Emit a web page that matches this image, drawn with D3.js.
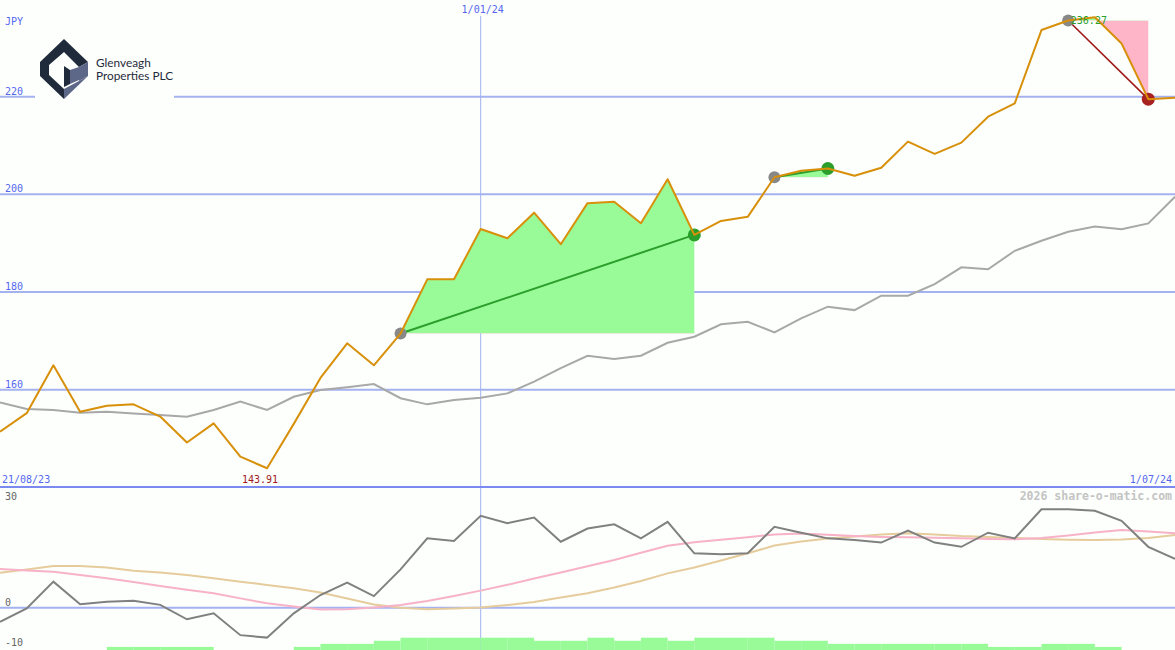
<!DOCTYPE html>
<html><head><meta charset="utf-8">
<script src="https://cdn.jsdelivr.net/npm/d3@7"></script>
<style>html,body{margin:0;padding:0;background:#fcfffc;overflow:hidden}svg{display:block}</style>
</head><body><svg id="c" width="1175" height="650"></svg>
<script>
// ---------- data ----------
const dates = ["2023-08-28","2023-09-04","2023-09-11","2023-09-18","2023-09-25","2023-10-02","2023-10-09","2023-10-16","2023-10-23","2023-10-30","2023-11-06","2023-11-13","2023-11-20","2023-11-27","2023-12-04","2023-12-11","2023-12-18","2023-12-25","2024-01-01","2024-01-08","2024-01-15","2024-01-22","2024-01-29","2024-02-05","2024-02-12","2024-02-19","2024-02-26","2024-03-04","2024-03-11","2024-03-18","2024-03-25","2024-04-01","2024-04-08","2024-04-15","2024-04-22","2024-04-29","2024-05-06","2024-05-13","2024-05-20","2024-05-27","2024-06-03","2024-06-10","2024-06-17","2024-06-24","2024-07-01"];
const price = [151.4,155.2,165.0,155.5,156.7,157.0,154.5,149.2,153.1,146.3,143.91,153.0,162.4,169.5,165.0,171.5,182.6,182.6,192.9,191.0,196.25,189.8,198.2,198.5,194.1,203.1,191.7,194.55,195.4,203.5,204.85,205.3,203.8,205.45,210.8,208.3,210.6,215.9,218.65,233.65,235.6,236.27,230.9,219.5,219.8];
const movingAvg = [157.4,156.05,155.85,155.3,155.5,155.15,154.8,154.45,155.85,157.55,155.85,158.55,159.95,160.5,161.15,158.25,157.0,157.9,158.35,159.25,161.65,164.4,166.95,166.3,166.95,169.6,170.85,173.4,173.9,171.75,174.6,177.0,176.3,179.25,179.25,181.6,185.05,184.65,188.45,190.5,192.35,193.4,192.85,194.05,199.5];
const momentum = [-4.0,-0.2,7.4,1.0,1.7,2.0,0.8,-3.3,-1.6,-7.8,-8.5,-1.6,3.6,7.1,3.3,10.9,19.7,18.95,26.1,24.0,25.6,18.75,22.5,23.7,19.7,24.4,15.45,15.2,15.45,23.0,21.3,19.7,19.2,18.5,21.9,18.5,17.3,21.3,19.7,27.95,27.95,27.55,24.7,17.3,13.85];
const pinkLine = [11.0,10.6,10.2,9.3,8.35,7.3,6.15,5.1,4.1,2.65,1.25,0.35,-0.5,-0.45,0.05,0.75,1.9,3.3,4.85,6.5,8.3,10.0,11.75,13.55,15.6,17.6,18.6,19.3,20.0,20.8,21.1,20.7,20.35,20.1,20.0,19.9,19.7,19.5,19.45,19.8,20.5,21.35,22.05,21.65,21.15];
const tanLine = [9.95,10.85,11.85,11.85,11.4,10.5,10.0,9.3,8.35,7.4,6.45,5.5,4.3,2.6,0.9,0.0,-0.45,-0.25,0.05,0.75,1.6,2.9,4.1,5.75,7.6,9.75,11.4,13.4,15.45,17.65,18.8,19.65,20.25,20.8,21.15,20.8,20.35,20.1,19.8,19.5,19.3,19.25,19.4,19.8,20.65];
const signalBars = [0,0,0,0,1,1,1,1,0,0,0,1,2,2,3,4,4,4,4,4,3,3,4,3,4,3,4,4,4,3,3,2,2,2,2,2,2,1,1,2,2,1,0,0];
const trends = [{start:15,end:26},{start:29,end:31},{start:40,end:43}];
const mainTicks = [160,180,200,220];
const lowTicks = [30,0,-10];
const lowGrid = [0];
const currency = "JPY";
const dateStartLabel = "21/08/23";
const dateMidLabel = "1/01/24", dateMid = "2024-01-01";
const dateEndLabel = "1/07/24";
const watermark = "2026 share-o-matic.com";
const companyLines = ["Glenveagh","Properties PLC"];

// ---------- setup ----------
const W = 1175, H = 650, MAIN_BOTTOM = 487;
const svg = d3.select('#c');
const parse = d3.timeParse('%Y-%m-%d');
const dts = dates.map(parse);
const x = d3.scaleTime().domain(d3.extent(dts)).range([0, W]);
const y = d3.scaleLinear().domain([160, 220]).range([389.7, 96.7]);
const yl = d3.scaleLinear().domain([-10, 30]).range([642.9, 502.1]);
const yb = d3.scaleLinear().domain([0, 4]).range([H, 637.7]);
const mono = "'DejaVu Sans Mono', monospace";
const gridCol = '#a4b2f2', labCol = '#5567f0';

svg.append('rect').attr('width', W).attr('height', H).attr('fill', '#fcfffc');

// main grid
svg.selectAll('.g').data(mainTicks).enter().append('line')
  .attr('x1', 0).attr('x2', W).attr('y1', d => y(d)).attr('y2', d => y(d))
  .attr('stroke', gridCol).attr('stroke-width', 2);

// logo box
const logo = svg.append('g');
logo.append('rect').attr('x', 35).attr('y', 30).attr('width', 139).attr('height', 76).attr('fill', '#fdfffd');
const navy = '#1f2a3a', slate = '#5d6788';
logo.append('path').attr('fill', navy).attr('d', 'M64,39 L88,62 L79,67 L64,52 L49,65 L49,75 L64,89 L64,99 L40,76 L40,62 Z');
logo.append('path').attr('fill', slate).attr('d', 'M88,62 L88,76 L79,81 L79,67 Z');
logo.append('path').attr('fill', slate).attr('d', 'M64,99 L64,89 L79,81 L88,76 Z');
logo.append('path').attr('fill', navy).attr('d', 'M64,66 L70,70 L70,84 L64,87 Z');
logo.append('path').attr('fill', slate).attr('d', 'M70,70 L79,67 L79,80 L70,84 Z');
logo.selectAll('text').data(companyLines).enter().append('text')
  .attr('x', 96).attr('y', (d, i) => 67 + i * 13).text(d => d)
  .attr('font-family', 'Lato, sans-serif').attr('font-size', 11.8).attr('fill', navy);

// vertical date line
svg.append('line').attr('x1', x(parse(dateMid))).attr('x2', x(parse(dateMid)))
  .attr('y1', 16).attr('y2', H).attr('stroke', gridCol).attr('stroke-width', 1);

// trend fills
const defs = svg.append('defs');
trends.forEach((t, k) => {
  const base = y(price[t.start]);
  defs.append('clipPath').attr('id', 'up' + k).append('rect').attr('x', 0).attr('y', 0).attr('width', W).attr('height', base);
  defs.append('clipPath').attr('id', 'dn' + k).append('rect').attr('x', 0).attr('y', base).attr('width', W).attr('height', H - base);
  const idx = d3.range(t.start, t.end + 1);
  const area = d3.area().x(i => x(dts[i])).y0(base).y1(i => y(price[i]));
  svg.append('path').datum(idx).attr('d', area).attr('fill', '#98fb98').attr('clip-path', `url(#up${k})`);
  svg.append('path').datum(idx).attr('d', area).attr('fill', '#ffb5c8').attr('clip-path', `url(#dn${k})`);
});

// moving average
const lineMain = arr => d3.line().x((d, i) => x(dts[i])).y(d => y(d))(arr);
svg.append('path').attr('d', lineMain(movingAvg)).attr('fill', 'none').attr('stroke', '#a8a8a8').attr('stroke-width', 2);

// trend lines + markers
trends.forEach(t => {
  const up = price[t.end] >= price[t.start];
  svg.append('line').attr('x1', x(dts[t.start])).attr('y1', y(price[t.start]))
    .attr('x2', x(dts[t.end])).attr('y2', y(price[t.end]))
    .attr('stroke', up ? '#2b9e2b' : '#a01818').attr('stroke-width', up ? 2 : 1.6);
  svg.append('circle').attr('cx', x(dts[t.start])).attr('cy', y(price[t.start])).attr('r', 6).attr('fill', '#888888');
  svg.append('circle').attr('cx', x(dts[t.end])).attr('cy', y(price[t.end])).attr('r', 6.5).attr('fill', up ? '#2b9e2b' : '#a82222');
});

// price line
svg.append('path').attr('d', lineMain(price)).attr('fill', 'none').attr('stroke', '#d8900a').attr('stroke-width', 2).attr('stroke-linejoin', 'round');

// main labels
svg.selectAll('.ml').data(mainTicks).enter().append('text')
  .attr('x', 5).attr('y', d => y(d) - 2).text(d => d)
  .attr('font-family', mono).attr('font-size', 10).attr('fill', labCol);
svg.append('text').attr('x', 5).attr('y', 25).text(currency).attr('font-family', mono).attr('font-size', 10).attr('fill', labCol);

// high / low labels
const maxI = d3.maxIndex(price), minI = d3.minIndex(price);
svg.append('text').attr('x', x(dts[maxI]) - 6).attr('y', y(price[maxI]) + 7).attr('text-anchor', 'middle')
  .text(price[maxI].toFixed(2)).attr('font-family', mono).attr('font-size', 10).attr('fill', '#2b9e2b');
svg.append('text').attr('x', x(dts[minI]) - 7).attr('y', MAIN_BOTTOM - 4).attr('text-anchor', 'middle')
  .text(price[minI].toFixed(2)).attr('font-family', mono).attr('font-size', 10).attr('fill', '#a01c1c');

// date labels
svg.append('text').attr('x', 2).attr('y', MAIN_BOTTOM - 4).text(dateStartLabel).attr('font-family', mono).attr('font-size', 10).attr('fill', labCol);
svg.append('text').attr('x', W - 3).attr('y', MAIN_BOTTOM - 4).attr('text-anchor', 'end').text(dateEndLabel).attr('font-family', mono).attr('font-size', 10).attr('fill', labCol);
svg.append('text').attr('x', x(parse(dateMid)) + 2).attr('y', 12.5).attr('text-anchor', 'middle').text(dateMidLabel).attr('font-family', mono).attr('font-size', 10).attr('fill', labCol);

// separator axis
svg.append('line').attr('x1', 0).attr('x2', W).attr('y1', MAIN_BOTTOM).attr('y2', MAIN_BOTTOM).attr('stroke', '#7a8af0').attr('stroke-width', 2);

// lower panel
svg.selectAll('.lg').data(lowGrid).enter().append('line')
  .attr('x1', 0).attr('x2', W).attr('y1', d => yl(d)).attr('y2', d => yl(d))
  .attr('stroke', gridCol).attr('stroke-width', 2);
const lineLow = arr => d3.line().x((d, i) => x(dts[i])).y(d => yl(d))(arr);
svg.append('path').attr('d', lineLow(tanLine)).attr('fill', 'none').attr('stroke', '#e6cc9c').attr('stroke-width', 2);
svg.append('path').attr('d', lineLow(pinkLine)).attr('fill', 'none').attr('stroke', '#f8b2c8').attr('stroke-width', 2);
svg.append('path').attr('d', lineLow(momentum)).attr('fill', 'none').attr('stroke', '#808080').attr('stroke-width', 2);

svg.selectAll('.bar').data(signalBars).enter().append('rect')
  .attr('x', (d, i) => x(dts[i])).attr('width', (d, i) => x(dts[i + 1]) - x(dts[i]))
  .attr('y', d => yb(d)).attr('height', d => yb(0) - yb(d)).attr('fill', '#98fb98');

const lowMin = d3.min(lowTicks);
svg.selectAll('.ll').data(lowTicks).enter().append('text')
  .attr('x', 5).attr('y', d => d === lowMin ? H - 4.3 : yl(d) - 2).text(d => d)
  .attr('font-family', mono).attr('font-size', 10).attr('fill', '#666666');

svg.append('text').attr('x', W - 3).attr('y', 500).attr('text-anchor', 'end').text(watermark)
  .attr('font-family', mono).attr('font-weight', 'bold').attr('font-size', 11.5).attr('fill', '#c4c4c4');
</script></body></html>
